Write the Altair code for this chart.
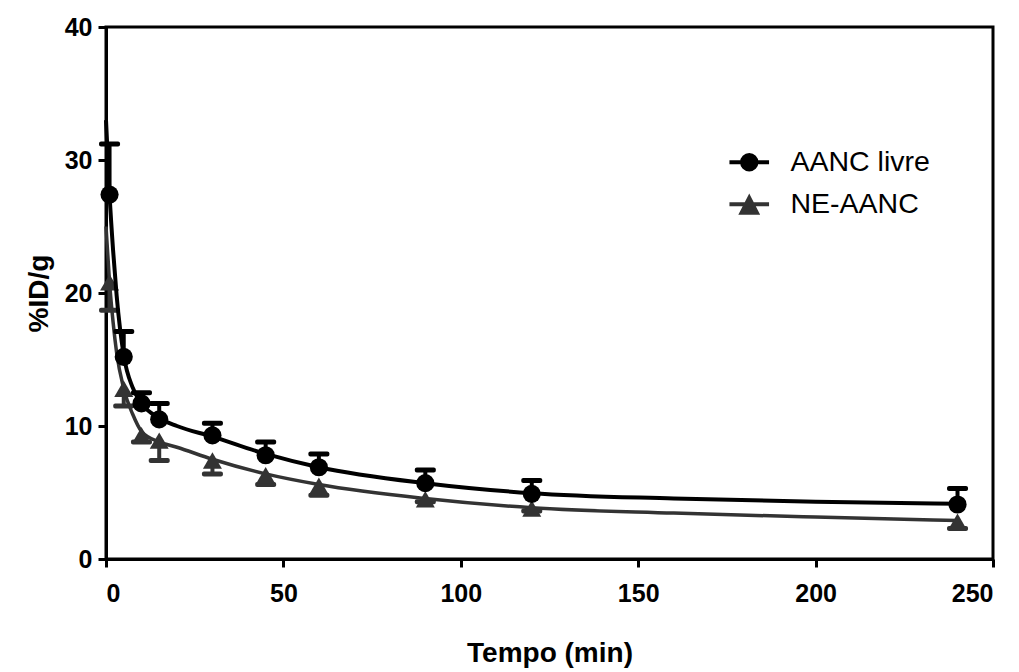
import altair as alt
import pandas as pd

# ---- data ----
series_names = ["AANC livre", "NE-AANC"]
series_colors = ["#000000", "#333333"]

times = [1, 5, 10, 15, 30, 45, 60, 90, 120, 240]
livre_mean = [27.4, 15.2, 11.7, 10.5, 9.3, 7.8, 6.9, 5.7, 4.9, 4.1]
livre_sem = [3.8, 1.9, 0.8, 1.2, 0.9, 1.0, 1.0, 1.0, 1.0, 1.2]
ne_mean = [20.8, 12.8, 9.3, 8.9, 7.4, 6.3, 5.5, 4.5, 3.8, 2.8]
ne_sem = [2.1, 1.3, 0.5, 1.5, 1.0, 0.7, 0.7, 0.2, 0.2, 0.5]

# fitted curves
fit_t = [0, 1, 2, 3, 5, 7.5, 10, 15, 20, 30, 45, 60, 90, 120, 160, 200, 240]
livre_fit = [33.0, 27.4, 23.2, 19.8, 15.3, 12.9, 11.7, 10.6, 10.0, 9.2, 7.9, 6.9, 5.7, 4.95, 4.55, 4.3, 4.15]
ne_fit = [25.0, 20.8, 17.8, 15.5, 12.8, 10.9, 9.6, 8.8, 8.4, 7.5, 6.4, 5.6, 4.55, 3.85, 3.45, 3.15, 2.9]

x_ticks = [0, 50, 100, 150, 200, 250]
y_ticks = [0, 10, 20, 30, 40]

# ---- tables ----
pts = pd.concat([
    pd.DataFrame({"series": series_names[0], "t": times, "y": livre_mean,
                  "end": [m + s for m, s in zip(livre_mean, livre_sem)]}),
    pd.DataFrame({"series": series_names[1], "t": times, "y": ne_mean,
                  "end": [m - s for m, s in zip(ne_mean, ne_sem)]}),
])
fits = pd.concat([
    pd.DataFrame({"series": series_names[0], "t": fit_t, "y": livre_fit}),
    pd.DataFrame({"series": series_names[1], "t": fit_t, "y": ne_fit}),
])

FONT = "Liberation Sans"

x_enc = alt.X("t:Q", scale=alt.Scale(domain=[0, 250], nice=False, zero=False),
              axis=alt.Axis(values=x_ticks, title="Tempo (min)", format="d"))
y_enc = alt.Y("y:Q", scale=alt.Scale(domain=[0, 40], nice=False),
              axis=alt.Axis(values=y_ticks, title="%ID/g", format="d"))

shapes_plot = ["circle", "triangle-up"]
line_widths = [4, 3.5]

layers = []
for idx in [1, 0]:
    name = series_names[idx]
    col = series_colors[idx]
    flt = alt.datum.series == name
    layers.append(
        alt.Chart(fits).transform_filter(flt)
        .mark_line(color=col, strokeWidth=line_widths[idx], interpolate="monotone")
        .encode(x=x_enc, y=y_enc)
    )
    layers.append(
        alt.Chart(pts).transform_filter(flt)
        .mark_rule(color=col, strokeWidth=4)
        .encode(x=x_enc, y=y_enc, y2="end:Q")
    )
    layers.append(
        alt.Chart(pts).transform_filter(flt)
        .mark_tick(orient="horizontal", size=21, thickness=5, color=col,
                   opacity=1, cornerRadius=2)
        .encode(x=x_enc, y=alt.Y("end:Q"))
    )
    layers.append(
        alt.Chart(pts).transform_filter(flt)
        .mark_point(shape=shapes_plot[idx], filled=True, size=330 if idx == 0 else 361,
                    color=col, opacity=1, strokeWidth=0)
        .encode(x=x_enc, y=y_enc)
    )

# legend-only layer (no data rows, domains explicit)
path_circle = "M-2.2,0H2.2M-0.8,0A0.8,0.8,0,1,1,0.8,0A0.8,0.8,0,1,1,-0.8,0Z"
path_tri = "M-2.2,0H2.2M0,-0.7L0.85,0.95L-0.85,0.95Z"
leg = alt.Legend(title=None)
legend_layer = (
    alt.Chart(pts).transform_filter("datum.t < 0")
    .mark_point(filled=True, opacity=1, size=324, strokeWidth=4)
    .encode(
        x=x_enc, y=y_enc,
        fill=alt.Fill("series:N", scale=alt.Scale(domain=series_names, range=series_colors), legend=leg),
        stroke=alt.Stroke("series:N", scale=alt.Scale(domain=series_names, range=series_colors), legend=leg),
        shape=alt.Shape("series:N", scale=alt.Scale(domain=series_names, range=[path_circle, path_tri]), legend=leg),
    )
)
layers.append(legend_layer)

chart = (
    alt.layer(*layers)
    .properties(width=887, height=532,
                autosize=alt.AutoSizeParams(type="none"),
                padding={"left": 98, "top": 19, "right": 18, "bottom": 112})
    .configure_view(stroke="#000000", strokeWidth=3)
    .configure_axis(
        domainColor="#000000", domainWidth=3, tickColor="#000000", tickWidth=3,
        tickSize=8, grid=False, labelFont=FONT, labelFontSize=25, labelFontWeight="bold",
        labelColor="#000000", titleFont=FONT, titleFontWeight="bold", titleColor="#000000",
    )
    .configure_axisX(labelPadding=14, titleFontSize=28, titlePadding=33)
    .configure_axisY(labelPadding=6, titleFontSize=28, titlePadding=11)
    .configure_legend(
        orient="none", legendX=629, legendY=121, padding=0, labelFont=FONT,
        labelFontSize=28.5, labelColor="#000000", labelOffset=27, rowPadding=11,
        symbolSize=324, symbolStrokeWidth=4, symbolOpacity=1,
    )
)

chart.save("out.html", embed_options={"renderer": "svg", "actions": False})
